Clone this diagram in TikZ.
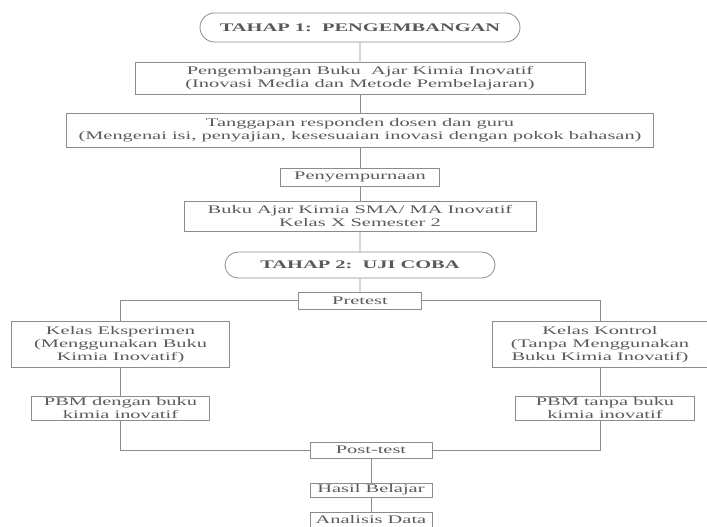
\documentclass[tikz,border=0pt]{standalone}
\usepackage{fontspec}
\setmainfont{Liberation Serif}[FakeStretch=1.76]
\usepackage{tikz}
\usetikzlibrary{positioning,shapes.misc}

\tikzset{
  box/.style={draw=black!45, line width=0.6pt, text=black!65, align=center,
    inner sep=0pt, font=\fontsize{8.7}{9.8}\selectfont},
  phase/.style={box, rounded rectangle, font=\fontsize{8.7}{9.8}\selectfont\bfseries},
  link/.style={draw=black!45, line width=0.6pt}
}

\begin{document}
\begin{tikzpicture}[node distance=30pt,on grid]
  \useasboundingbox (0,0) rectangle (530.25pt,-395.25pt);
  % tahap 1
  \node[phase,minimum width=240pt,minimum height=21.75pt] (t1) at (270pt,-20.6pt) {TAHAP 1:\ \ PENGEMBANGAN};
  \node[box,minimum width=337.5pt,minimum height=24pt] (dev) [below=37.9pt of t1] {Pengembangan Buku\ \ Ajar Kimia Inovatif\\(Inovasi Media dan Metode Pembelajaran)};
  \node[box,minimum width=440pt,minimum height=25.5pt] (resp) [below=39pt of dev] {Tanggapan responden dosen dan guru\\(Mengenai isi, penyajian, kesesuaian inovasi dengan pokok bahasan)};
  \node[box,minimum width=119pt,minimum height=13.5pt] (fix) [below=35.25pt of resp] {Penyempurnaan};
  \node[box,minimum width=264pt,minimum height=22.5pt] (book) [below=29.25pt of fix] {Buku Ajar Kimia SMA/ MA Inovatif\\Kelas X Semester 2};
  % tahap 2
  \node[phase,minimum width=202.5pt,minimum height=19.5pt] (t2) [below=36.75pt of book] {TAHAP 2:\ \ UJI COBA};
  \node[box,minimum width=92pt,minimum height=12.75pt] (pre) [below=26.6pt of t2] {Pretest};
  \node[box,minimum width=163pt,minimum height=35pt] (exp) [below left=33pt and 179.6pt of pre] {Kelas Eksperimen\\(Menggunakan Buku\\Kimia Inovatif)};
  \node[box,minimum width=162pt,minimum height=35pt] (ctl) [below right=33pt and 180pt of pre] {Kelas Kontrol\\(Tanpa Menggunakan\\Buku Kimia Inovatif)};
  \node[box,minimum width=133pt,minimum height=18pt] (pexp) [below=47.6pt of exp] {PBM dengan buku\\kimia inovatif};
  \node[box,minimum width=134pt,minimum height=18pt] (pctl) [below right=47.6pt and 3.75pt of ctl] {PBM tanpa buku\\kimia inovatif};
  \node[box,minimum width=91.5pt,minimum height=12pt] (post) [below right=112.1pt and 8.25pt of pre] {Post-test};
  \node[box,minimum width=91.5pt,minimum height=10.5pt] (res) [below=30pt of post] {Hasil Belajar};
  \node[box,minimum width=91.5pt,minimum height=12pt] (ana) [below=22.5pt of res] {Analisis Data};

  \path[link] (t1) edge (dev)
              (dev) edge (resp)
              (resp) edge (fix)
              (fix) edge (book)
              (book) edge (t2)
              (t2) edge (pre);
  \draw[link] (pre.west) -| (exp.north);
  \draw[link] (pre.east) -| (ctl.north);
  \draw[link] (exp.south) -- (pexp.north);
  \draw[link] (ctl.south) -- (ctl.south |- pctl.north);
  \draw[link] (pexp.south) |- (post.west);
  \draw[link] (ctl.south |- pctl.south) |- (post.east);
  \draw[link] (post) -- (res);
  \draw[link] (res) -- (ana);
\end{tikzpicture}
\end{document}
